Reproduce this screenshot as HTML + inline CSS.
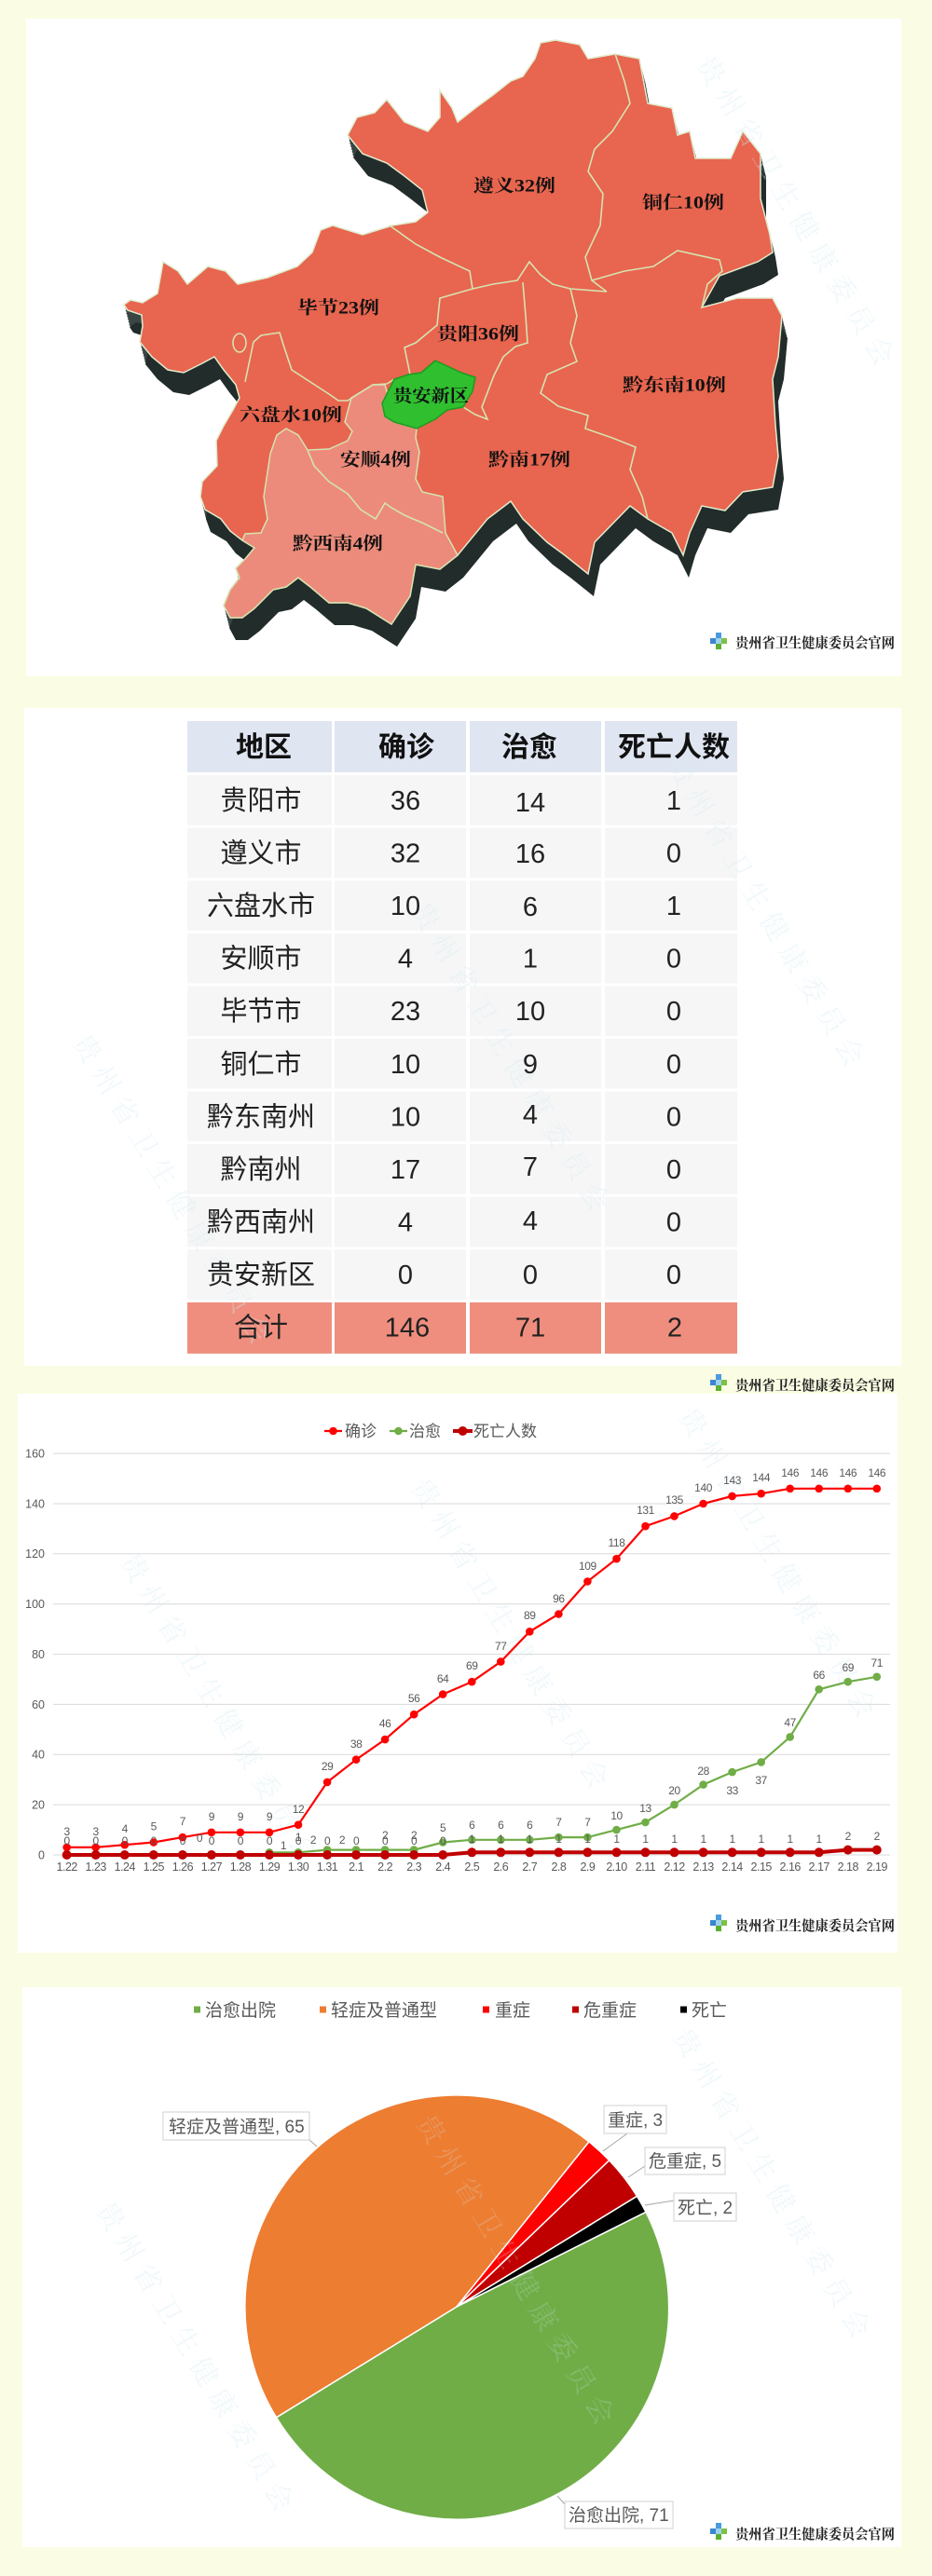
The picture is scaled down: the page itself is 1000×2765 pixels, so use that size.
<!DOCTYPE html>
<html><head><meta charset="utf-8">
<style>
html,body{margin:0;padding:0;background:#FAFDE3;}
svg{display:block}
.mp{font-family:"Liberation Serif","Noto Serif CJK SC",serif;font-weight:bold;font-size:19px;fill:#111}
.tb{font-family:"Liberation Sans","Noto Sans CJK SC",sans-serif;font-size:29px;fill:#222;text-anchor:middle}
.th{font-family:"Liberation Sans","Noto Sans CJK SC",sans-serif;font-size:30px;fill:#111;text-anchor:middle;font-weight:bold}
.ax{font-family:"Liberation Sans","Noto Sans CJK SC",sans-serif;font-size:12.5px;fill:#595959}
.dl{font-family:"Liberation Sans",sans-serif;font-size:12px;fill:#595959;text-anchor:middle;letter-spacing:-0.4px}
.lg{font-family:"Liberation Sans","Noto Sans CJK SC",sans-serif;font-size:17px;fill:#595959}
.pl{font-family:"Liberation Sans","Noto Sans CJK SC",sans-serif;font-size:19px;fill:#595959}
.wm{font-family:"Liberation Serif","Noto Serif CJK SC",serif;font-size:30px;fill:#d6ecf4;opacity:.35;letter-spacing:9px}
.logo{font-family:"Liberation Serif","Noto Serif CJK SC",serif;font-weight:bold;font-size:15px;fill:#222}
</style></head>
<body>
<svg width="1000" height="2765" viewBox="0 0 1000 2765" xmlns="http://www.w3.org/2000/svg">
<defs>
<path id="outer" d="M580,46 L596,43 622,48 631,63 660,58 686,63 695,111 721,116 727,145 740,141 746,170 784,170 797,141 816,165 816,213 826,252 829,271 813,281 772,296 753,330 791,320 829,320 839,339 835,383 829,407 832,456 835,490 829,523 797,528 778,548 753,543 740,572 733,596 721,572 695,557 676,543 638,582 631,616 606,596 587,582 561,557 548,538 523,557 491,596 472,611 446,606 440,640 420,670 393,653 373,647 353,647 333,630 320,620 307,630 293,633 273,653 260,663 247,663 240,650 247,633 257,620 253,610 263,600 273,588 260,580 247,570 237,557 220,547 215,533 217,517 233,500 232,473 240,457 250,440 257,427 253,413 240,397 230,383 217,390 197,400 180,397 163,383 150,367 153,350 152,338 137,333 133,327 140,322 153,325 169,315 175,281 191,291 201,305 223,286 242,291 255,305 287,298 319,286 335,271 344,247 357,242 389,252 421,242 446,238 459,228 453,204 434,189 415,175 389,165 373,145 383,126 402,121 415,107 434,131 459,141 472,126 472,97 485,116 491,131 510,116 529,102 548,87 561,82 574,63 Z"/>
<g id="ico">
<rect x="6" y="0" width="6" height="6" fill="#4a9be0"/>
<rect x="0" y="6" width="6" height="6" fill="#3a86d0"/>
<rect x="6" y="6" width="6" height="6" fill="#9fd0f0"/>
<rect x="12" y="6" width="6" height="6" fill="#7cc242"/>
<rect x="6" y="12" width="6" height="6" fill="#5bb033"/>
</g>
</defs>

<!-- panels -->
<rect x="28" y="20" width="939" height="706" fill="#fff"/>
<rect x="26" y="760" width="941" height="706" fill="#fff"/>
<rect x="19" y="1496" width="944" height="600" fill="#fff"/>
<rect x="24" y="2133" width="943" height="601" fill="#fff"/>

<!-- ============ MAP ============ -->
<g fill="#3a4644">
<use href="#outer" transform="translate(1,3)"/>
<use href="#outer" transform="translate(1.5,6)"/>
<use href="#outer" transform="translate(2.2,9)"/>
<use href="#outer" transform="translate(3,12)"/>
<use href="#outer" transform="translate(3.8,15)"/>
<use href="#outer" transform="translate(4.5,18)"/>
<use href="#outer" transform="translate(5.2,21)"/>
</g>
<use href="#outer" transform="translate(6,24)" fill="#222c2b"/>
<use href="#outer" fill="#E8654F" stroke="#dfeccd" stroke-width="1.5"/>
<polygon points="260,580 273,588 263,600 253,610 257,620 247,633 240,650 247,663 260,663 273,653 293,633 307,630 320,620 333,630 353,647 373,647 393,653 420,670 440,640 446,606 472,611 491,596 478,572 475,533 453,528 446,514 450,485 446,470 447,460 423,453 413,447 410,433 417,427 413,413 400,413 377,427 370,453 378,463 373,473 353,482 330,483 320,467 307,460 297,467 290,487 287,507 283,533 287,557 280,572 263,573" fill="#EC8B7B" stroke="#d5e3b0" stroke-width="1.5"/>
<g fill="none" stroke="#d5e3b0" stroke-width="1.6">
<polyline points="660,58 670,87 676,111 657,141 638,160 631,184 647,208 644,242 628,276 635,301 651,313"/>
<polyline points="635,301 670,291 701,286 727,269 772,279 775,291 759,305 753,330"/>
<polyline points="418,242 446,262 472,276 504,291 507,310"/>
<polyline points="507,310 529,305 555,301 568,281 580,295 593,305 612,310 651,313"/>
<polyline points="507,310 472,320 469,349 446,368 434,373 440,402"/>
<polyline points="561,303 564,339 566,368 553,372 540,383 530,403 517,437 523,450 510,445 497,437"/>
<polyline points="612,310 619,339 612,368 619,388 587,402 580,422 599,436 631,446 628,460 657,470 682,480 676,504 689,533 695,557"/>
<polyline points="263,410 272,367 280,360 300,357 305,373 313,397 333,410 353,423 363,430 373,430 400,413 415,412 423,407"/>
<polyline points="330,483 337,500 353,517 373,530 387,547 403,557 413,540 420,545 434,553 455,562 475,572"/>
<ellipse cx="257" cy="368" rx="7" ry="10"/>
</g>
<polygon points="410,433 423,407 438,402 452,400 467,387 480,393 495,400 510,405 507,420 497,437 480,440 467,450 447,460 423,453 413,447" fill="#2fbf2f" stroke="#1f9a1f" stroke-width="1.5"/>

<text class="mp" x="508" y="205.5" textLength="88" lengthAdjust="spacingAndGlyphs">遵义32例</text>
<text class="mp" x="689" y="223.5" textLength="88" lengthAdjust="spacingAndGlyphs">铜仁10例</text>
<text class="mp" x="319" y="336.5" textLength="88" lengthAdjust="spacingAndGlyphs">毕节23例</text>
<text class="mp" x="469" y="364.5" textLength="88" lengthAdjust="spacingAndGlyphs">贵阳36例</text>
<text class="mp" x="422" y="431" textLength="81" lengthAdjust="spacingAndGlyphs">贵安新区</text>
<text class="mp" x="668" y="419.5" textLength="111" lengthAdjust="spacingAndGlyphs">黔东南10例</text>
<text class="mp" x="257" y="451.5" textLength="110" lengthAdjust="spacingAndGlyphs">六盘水10例</text>
<text class="mp" x="365" y="499.5" textLength="76" lengthAdjust="spacingAndGlyphs">安顺4例</text>
<text class="mp" x="524" y="499.5" textLength="88" lengthAdjust="spacingAndGlyphs">黔南17例</text>
<text class="mp" x="314" y="589.5" textLength="97" lengthAdjust="spacingAndGlyphs">黔西南4例</text>

<text class="wm" transform="translate(746,68) rotate(59)">贵州省卫生健康委员会</text>

<use href="#ico" transform="translate(762,679)"/>
<text class="logo" x="789" y="695" textLength="171" lengthAdjust="spacingAndGlyphs">贵州省卫生健康委员会官网</text>

<!-- ============ TABLE ============ -->
<g>
<rect x="201" y="774" width="155" height="55" fill="#E0E5F2"/>
<rect x="359" y="774" width="141" height="55" fill="#E0E5F2"/>
<rect x="504" y="774" width="141" height="55" fill="#E0E5F2"/>
<rect x="649" y="774" width="142" height="55" fill="#E0E5F2"/>
</g>
<g fill="#F6F6F6">
<rect x="201" y="832.1" width="155" height="53.6"/><rect x="359" y="832.1" width="141" height="53.6"/><rect x="504" y="832.1" width="141" height="53.6"/><rect x="649" y="832.1" width="142" height="53.6"/>
<rect x="201" y="888.7" width="155" height="53.6"/><rect x="359" y="888.7" width="141" height="53.6"/><rect x="504" y="888.7" width="141" height="53.6"/><rect x="649" y="888.7" width="142" height="53.6"/>
<rect x="201" y="945.2" width="155" height="53.6"/><rect x="359" y="945.2" width="141" height="53.6"/><rect x="504" y="945.2" width="141" height="53.6"/><rect x="649" y="945.2" width="142" height="53.6"/>
<rect x="201" y="1001.8" width="155" height="53.6"/><rect x="359" y="1001.8" width="141" height="53.6"/><rect x="504" y="1001.8" width="141" height="53.6"/><rect x="649" y="1001.8" width="142" height="53.6"/>
<rect x="201" y="1058.4" width="155" height="53.6"/><rect x="359" y="1058.4" width="141" height="53.6"/><rect x="504" y="1058.4" width="141" height="53.6"/><rect x="649" y="1058.4" width="142" height="53.6"/>
<rect x="201" y="1115" width="155" height="53.6"/><rect x="359" y="1115" width="141" height="53.6"/><rect x="504" y="1115" width="141" height="53.6"/><rect x="649" y="1115" width="142" height="53.6"/>
<rect x="201" y="1171.6" width="155" height="53.6"/><rect x="359" y="1171.6" width="141" height="53.6"/><rect x="504" y="1171.6" width="141" height="53.6"/><rect x="649" y="1171.6" width="142" height="53.6"/>
<rect x="201" y="1228.1" width="155" height="53.6"/><rect x="359" y="1228.1" width="141" height="53.6"/><rect x="504" y="1228.1" width="141" height="53.6"/><rect x="649" y="1228.1" width="142" height="53.6"/>
<rect x="201" y="1284.7" width="155" height="53.6"/><rect x="359" y="1284.7" width="141" height="53.6"/><rect x="504" y="1284.7" width="141" height="53.6"/><rect x="649" y="1284.7" width="142" height="53.6"/>
<rect x="201" y="1341.3" width="155" height="53.6"/><rect x="359" y="1341.3" width="141" height="53.6"/><rect x="504" y="1341.3" width="141" height="53.6"/><rect x="649" y="1341.3" width="142" height="53.6"/>
</g>
<g fill="#EF8E7E">
<rect x="201" y="1397.9" width="155" height="55"/><rect x="359" y="1397.9" width="141" height="55"/><rect x="504" y="1397.9" width="141" height="55"/><rect x="649" y="1397.9" width="142" height="55"/>
</g>

<text class="wm" transform="translate(714,820) rotate(59)">贵州省卫生健康委员会</text>
<text class="wm" transform="translate(440,976) rotate(59)">贵州省卫生健康委员会</text>
<text class="wm" transform="translate(77,1118) rotate(59)">贵州省卫生健康委员会</text>

<text class="th" x="283" y="812">地区</text><text class="th" x="436" y="812">确诊</text><text class="th" x="568" y="812">治愈</text><text class="th" x="723" y="812">死亡人数</text>

<text class="tb" x="280" y="869">贵阳市</text><text class="tb" x="435" y="869">36</text><text class="tb" x="569" y="871">14</text><text class="tb" x="723" y="869">1</text>
<text class="tb" x="280" y="925.5">遵义市</text><text class="tb" x="435" y="925.5">32</text><text class="tb" x="569" y="926">16</text><text class="tb" x="723" y="925.5">0</text>
<text class="tb" x="280" y="982">六盘水市</text><text class="tb" x="435" y="982">10</text><text class="tb" x="569" y="983">6</text><text class="tb" x="723" y="982">1</text>
<text class="tb" x="280" y="1038.6">安顺市</text><text class="tb" x="435" y="1038.6">4</text><text class="tb" x="569" y="1038.6">1</text><text class="tb" x="723" y="1038.6">0</text>
<text class="tb" x="280" y="1095.2">毕节市</text><text class="tb" x="435" y="1095.2">23</text><text class="tb" x="569" y="1095.2">10</text><text class="tb" x="723" y="1095.2">0</text>
<text class="tb" x="280" y="1151.8">铜仁市</text><text class="tb" x="435" y="1151.8">10</text><text class="tb" x="569" y="1151.8">9</text><text class="tb" x="723" y="1151.8">0</text>
<text class="tb" x="280" y="1208.4">黔东南州</text><text class="tb" x="435" y="1208.4">10</text><text class="tb" x="569" y="1206">4</text><text class="tb" x="723" y="1208.4">0</text>
<text class="tb" x="280" y="1265">黔南州</text><text class="tb" x="435" y="1265">17</text><text class="tb" x="569" y="1262">7</text><text class="tb" x="723" y="1265">0</text>
<text class="tb" x="280" y="1321.6">黔西南州</text><text class="tb" x="435" y="1321.6">4</text><text class="tb" x="569" y="1320">4</text><text class="tb" x="723" y="1321.6">0</text>
<text class="tb" x="280" y="1378.2">贵安新区</text><text class="tb" x="435" y="1378.2">0</text><text class="tb" x="569" y="1378.2">0</text><text class="tb" x="723" y="1378.2">0</text>
<text class="tb" x="280" y="1434.7">合计</text><text class="tb" x="437" y="1434.7">146</text><text class="tb" x="569" y="1434.7">71</text><text class="tb" x="724" y="1434.7">2</text>

<use href="#ico" transform="translate(762,1475)"/>
<text class="logo" x="789" y="1492" textLength="171" lengthAdjust="spacingAndGlyphs">贵州省卫生健康委员会官网</text>

<!-- ============ LINE CHART ============ -->
<text class="wm" transform="translate(727,1519) rotate(59)">贵州省卫生健康委员会</text>
<text class="wm" transform="translate(440,1595) rotate(59)">贵州省卫生健康委员会</text>
<text class="wm" transform="translate(128,1675) rotate(59)">贵州省卫生健康委员会</text>

<g stroke="#D9D9D9" stroke-width="1">
<line x1="57" y1="1560.1" x2="955" y2="1560.1"/>
<line x1="57" y1="1614" x2="955" y2="1614"/>
<line x1="57" y1="1667.8" x2="955" y2="1667.8"/>
<line x1="57" y1="1721.7" x2="955" y2="1721.7"/>
<line x1="57" y1="1775.6" x2="955" y2="1775.6"/>
<line x1="57" y1="1829.4" x2="955" y2="1829.4"/>
<line x1="57" y1="1883.3" x2="955" y2="1883.3"/>
<line x1="57" y1="1937.1" x2="955" y2="1937.1"/>
<line x1="57" y1="1991" x2="955" y2="1991"/>
</g>
<g class="ax" text-anchor="end">
<text x="48" y="1564.5">160</text><text x="48" y="1618.4">140</text><text x="48" y="1672.2">120</text><text x="48" y="1726.1">100</text><text x="48" y="1780">80</text><text x="48" y="1833.8">60</text><text x="48" y="1887.7">40</text><text x="48" y="1941.5">20</text><text x="48" y="1995.4">0</text>
</g>
<g class="ax" text-anchor="middle" letter-spacing="-0.5">
<text x="71.7" y="2008">1.22</text><text x="102.7" y="2008">1.23</text><text x="133.8" y="2008">1.24</text><text x="164.8" y="2008">1.25</text><text x="195.9" y="2008">1.26</text><text x="226.9" y="2008">1.27</text><text x="257.9" y="2008">1.28</text><text x="289" y="2008">1.29</text><text x="320" y="2008">1.30</text><text x="351.1" y="2008">1.31</text><text x="382.1" y="2008">2.1</text><text x="413.1" y="2008">2.2</text><text x="444.2" y="2008">2.3</text><text x="475.2" y="2008">2.4</text><text x="506.3" y="2008">2.5</text><text x="537.3" y="2008">2.6</text><text x="568.3" y="2008">2.7</text><text x="599.4" y="2008">2.8</text><text x="630.4" y="2008">2.9</text><text x="661.5" y="2008">2.10</text><text x="692.5" y="2008">2.11</text><text x="723.5" y="2008">2.12</text><text x="754.6" y="2008">2.13</text><text x="785.6" y="2008">2.14</text><text x="816.7" y="2008">2.15</text><text x="847.7" y="2008">2.16</text><text x="878.7" y="2008">2.17</text><text x="909.8" y="2008">2.18</text><text x="940.8" y="2008">2.19</text>
</g>

<!-- legend -->
<line x1="348" y1="1536" x2="367" y2="1536" stroke="#FF0000" stroke-width="2.2"/><circle cx="357.5" cy="1536" r="4.3" fill="#FF0000"/>
<text class="lg" x="370" y="1542">确诊</text>
<line x1="418" y1="1536" x2="437" y2="1536" stroke="#70AD47" stroke-width="2.2"/><circle cx="427.5" cy="1536" r="4.3" fill="#70AD47"/>
<text class="lg" x="439" y="1542">治愈</text>
<line x1="486" y1="1536" x2="507" y2="1536" stroke="#C00000" stroke-width="4"/><circle cx="496.5" cy="1536" r="5" fill="#C00000"/>
<text class="lg" x="508" y="1542">死亡人数</text>

<!-- confirmed -->
<polyline fill="none" stroke="#FF0000" stroke-width="2.2" points="71.7,1982.9 102.7,1982.9 133.8,1980.2 164.8,1977.5 195.9,1972.1 226.9,1966.8 257.9,1966.8 289,1966.8 320,1958.7 351.1,1912.9 382.1,1888.7 413.1,1867.1 444.2,1840.2 475.2,1818.6 506.3,1805.2 537.3,1783.6 568.3,1751.3 599.4,1732.5 630.4,1697.5 661.5,1673.2 692.5,1638.2 723.5,1627.4 754.6,1614 785.6,1605.9 816.7,1603.2 847.7,1597.8 878.7,1597.8 909.8,1597.8 940.8,1597.8"/>
<g fill="#FF0000">
<circle cx="71.7" cy="1982.9" r="4.3"/><circle cx="102.7" cy="1982.9" r="4.3"/><circle cx="133.8" cy="1980.2" r="4.3"/><circle cx="164.8" cy="1977.5" r="4.3"/><circle cx="195.9" cy="1972.1" r="4.3"/><circle cx="226.9" cy="1966.8" r="4.3"/><circle cx="257.9" cy="1966.8" r="4.3"/><circle cx="289" cy="1966.8" r="4.3"/><circle cx="320" cy="1958.7" r="4.3"/><circle cx="351.1" cy="1912.9" r="4.3"/><circle cx="382.1" cy="1888.7" r="4.3"/><circle cx="413.1" cy="1867.1" r="4.3"/><circle cx="444.2" cy="1840.2" r="4.3"/><circle cx="475.2" cy="1818.6" r="4.3"/><circle cx="506.3" cy="1805.2" r="4.3"/><circle cx="537.3" cy="1783.6" r="4.3"/><circle cx="568.3" cy="1751.3" r="4.3"/><circle cx="599.4" cy="1732.5" r="4.3"/><circle cx="630.4" cy="1697.5" r="4.3"/><circle cx="661.5" cy="1673.2" r="4.3"/><circle cx="692.5" cy="1638.2" r="4.3"/><circle cx="723.5" cy="1627.4" r="4.3"/><circle cx="754.6" cy="1614" r="4.3"/><circle cx="785.6" cy="1605.9" r="4.3"/><circle cx="816.7" cy="1603.2" r="4.3"/><circle cx="847.7" cy="1597.8" r="4.3"/><circle cx="878.7" cy="1597.8" r="4.3"/><circle cx="909.8" cy="1597.8" r="4.3"/><circle cx="940.8" cy="1597.8" r="4.3"/>
</g>
<!-- cured -->
<polyline fill="none" stroke="#70AD47" stroke-width="2.2" points="289,1988.3 320,1988.3 351.1,1985.6 382.1,1985.6 413.1,1985.6 444.2,1985.6 475.2,1977.5 506.3,1974.8 537.3,1974.8 568.3,1974.8 599.4,1972.1 630.4,1972.1 661.5,1964.1 692.5,1956 723.5,1937.1 754.6,1915.6 785.6,1902.1 816.7,1891.4 847.7,1864.4 878.7,1813.3 909.8,1805.2 940.8,1799.8"/>
<g fill="#70AD47">
<circle cx="289" cy="1988.3" r="4.3"/><circle cx="320" cy="1988.3" r="4.3"/><circle cx="351.1" cy="1985.6" r="4.3"/><circle cx="382.1" cy="1985.6" r="4.3"/><circle cx="413.1" cy="1985.6" r="4.3"/><circle cx="444.2" cy="1985.6" r="4.3"/><circle cx="475.2" cy="1977.5" r="4.3"/><circle cx="506.3" cy="1974.8" r="4.3"/><circle cx="537.3" cy="1974.8" r="4.3"/><circle cx="568.3" cy="1974.8" r="4.3"/><circle cx="599.4" cy="1972.1" r="4.3"/><circle cx="630.4" cy="1972.1" r="4.3"/><circle cx="661.5" cy="1964.1" r="4.3"/><circle cx="692.5" cy="1956" r="4.3"/><circle cx="723.5" cy="1937.1" r="4.3"/><circle cx="754.6" cy="1915.6" r="4.3"/><circle cx="785.6" cy="1902.1" r="4.3"/><circle cx="816.7" cy="1891.4" r="4.3"/><circle cx="847.7" cy="1864.4" r="4.3"/><circle cx="878.7" cy="1813.3" r="4.3"/><circle cx="909.8" cy="1805.2" r="4.3"/><circle cx="940.8" cy="1799.8" r="4.3"/>
</g>
<!-- deaths -->
<polyline fill="none" stroke="#C00000" stroke-width="4" points="71.7,1991 475.2,1991 506.3,1988.3 878.7,1988.3 909.8,1985.6 940.8,1985.6"/>
<g fill="#C00000">
<circle cx="71.7" cy="1991" r="5"/><circle cx="102.7" cy="1991" r="5"/><circle cx="133.8" cy="1991" r="5"/><circle cx="164.8" cy="1991" r="5"/><circle cx="195.9" cy="1991" r="5"/><circle cx="226.9" cy="1991" r="5"/><circle cx="257.9" cy="1991" r="5"/><circle cx="289" cy="1991" r="5"/><circle cx="320" cy="1991" r="5"/><circle cx="351.1" cy="1991" r="5"/><circle cx="382.1" cy="1991" r="5"/><circle cx="413.1" cy="1991" r="5"/><circle cx="444.2" cy="1991" r="5"/><circle cx="475.2" cy="1991" r="5"/><circle cx="506.3" cy="1988.3" r="5"/><circle cx="537.3" cy="1988.3" r="5"/><circle cx="568.3" cy="1988.3" r="5"/><circle cx="599.4" cy="1988.3" r="5"/><circle cx="630.4" cy="1988.3" r="5"/><circle cx="661.5" cy="1988.3" r="5"/><circle cx="692.5" cy="1988.3" r="5"/><circle cx="723.5" cy="1988.3" r="5"/><circle cx="754.6" cy="1988.3" r="5"/><circle cx="785.6" cy="1988.3" r="5"/><circle cx="816.7" cy="1988.3" r="5"/><circle cx="847.7" cy="1988.3" r="5"/><circle cx="878.7" cy="1988.3" r="5"/><circle cx="909.8" cy="1985.6" r="5"/><circle cx="940.8" cy="1985.6" r="5"/>
</g>

<!-- data labels -->
<g class="dl">
<text x="71.7" y="1970">3</text><text x="102.7" y="1970">3</text><text x="133.8" y="1967">4</text><text x="164.8" y="1964.5">5</text><text x="195.9" y="1959">7</text><text x="226.9" y="1954">9</text><text x="257.9" y="1954">9</text><text x="289" y="1954">9</text><text x="320" y="1946">12</text><text x="351.1" y="1900">29</text><text x="382.1" y="1876">38</text><text x="413.1" y="1854">46</text><text x="444.2" y="1827">56</text><text x="475.2" y="1806">64</text><text x="506.3" y="1792">69</text><text x="537.3" y="1771">77</text><text x="568.3" y="1738">89</text><text x="599.4" y="1720">96</text><text x="630.4" y="1685">109</text><text x="661.5" y="1660">118</text><text x="692.5" y="1625">131</text><text x="723.5" y="1614">135</text><text x="754.6" y="1601">140</text><text x="785.6" y="1593">143</text><text x="816.7" y="1590">144</text><text x="847.7" y="1585">146</text><text x="878.7" y="1585">146</text><text x="909.8" y="1585">146</text><text x="940.8" y="1585">146</text>
<text x="71.7" y="1980">0</text><text x="102.7" y="1980">0</text><text x="133.8" y="1980">0</text><text x="164.8" y="1980">0</text><text x="195.9" y="1980">0</text><text x="214" y="1977">0</text><text x="226.9" y="1980">0</text><text x="257.9" y="1980">0</text><text x="289" y="1980">0</text><text x="320" y="1980">0</text><text x="351.1" y="1980">0</text><text x="382.1" y="1980">0</text><text x="413.1" y="1980">0</text><text x="444.2" y="1980">0</text><text x="475.2" y="1980">0</text>
<text x="506.3" y="1978">1</text><text x="537.3" y="1978">1</text><text x="568.3" y="1978">1</text><text x="599.4" y="1978">1</text><text x="630.4" y="1978">1</text><text x="661.5" y="1978">1</text><text x="692.5" y="1978">1</text><text x="723.5" y="1978">1</text><text x="754.6" y="1978">1</text><text x="785.6" y="1978">1</text><text x="816.7" y="1978">1</text><text x="847.7" y="1978">1</text><text x="878.7" y="1978">1</text><text x="909.8" y="1975">2</text><text x="940.8" y="1975">2</text>
<text x="304" y="1985">1</text><text x="320" y="1976">1</text><text x="336" y="1979">2</text><text x="367" y="1979">2</text><text x="413.1" y="1974">2</text><text x="444.2" y="1974">2</text><text x="475.2" y="1966">5</text><text x="506.3" y="1963">6</text><text x="537.3" y="1963">6</text><text x="568.3" y="1963">6</text><text x="599.4" y="1960">7</text><text x="630.4" y="1960">7</text><text x="661.5" y="1953">10</text><text x="692.5" y="1945">13</text><text x="723.5" y="1926">20</text><text x="754.6" y="1905">28</text><text x="785.6" y="1926">33</text><text x="816.7" y="1915">37</text><text x="847.7" y="1853">47</text><text x="878.7" y="1802">66</text><text x="909.8" y="1794">69</text><text x="940.8" y="1789">71</text>
</g>

<use href="#ico" transform="translate(762,2055)"/>
<text class="logo" x="789" y="2072" textLength="171" lengthAdjust="spacingAndGlyphs">贵州省卫生健康委员会官网</text>

<!-- ============ PIE ============ -->
<text class="wm" transform="translate(721,2185) rotate(59)">贵州省卫生健康委员会</text>
<text class="wm" transform="translate(102,2371) rotate(59)">贵州省卫生健康委员会</text>

<rect x="208" y="2153.5" width="7" height="7" fill="#70AD47"/><text class="pl" x="220" y="2164">治愈出院</text>
<rect x="343" y="2153.5" width="7" height="7" fill="#ED7D31"/><text class="pl" x="355" y="2164">轻症及普通型</text>
<rect x="518" y="2153.5" width="7" height="7" fill="#FF0000"/><text class="pl" x="531" y="2164">重症</text>
<rect x="614" y="2153.5" width="7" height="7" fill="#C00000"/><text class="pl" x="626" y="2164">危重症</text>
<rect x="730" y="2153.5" width="7" height="7" fill="#000000"/><text class="pl" x="742" y="2164">死亡</text>

<g stroke="#fff" stroke-width="1.5" stroke-linejoin="round">
<path d="M490,2476 L693,2374.3 A227,227 0 0,1 296.5,2594.8 Z" fill="#70AD47"/>
<path d="M490,2476 L296.5,2594.8 A227,227 0 0,1 632,2298.9 Z" fill="#ED7D31"/>
<path d="M490,2476 L632,2298.9 A227,227 0 0,1 653.7,2318.8 Z" fill="#FF0000"/>
<path d="M490,2476 L653.7,2318.8 A227,227 0 0,1 683.5,2357.3 Z" fill="#C00000"/>
<path d="M490,2476 L683.5,2357.3 A227,227 0 0,1 693,2374.3 Z" fill="#000000"/>
</g>
<text class="wm" transform="translate(446,2278) rotate(59)" style="opacity:.2">贵州省卫生健康委员会</text>

<g stroke="#a6a6a6" stroke-width="1" fill="none">
<line x1="332" y1="2297" x2="340" y2="2304"/>
<line x1="673" y1="2290" x2="647" y2="2309"/>
<line x1="692" y1="2325" x2="674" y2="2337"/>
<line x1="723" y1="2362" x2="692" y2="2367"/>
<line x1="606" y1="2688" x2="598" y2="2679"/>
</g>
<g fill="#fff" stroke="#d0d0d0" stroke-width="1">
<rect x="175" y="2267" width="157" height="30"/>
<rect x="648" y="2260" width="67" height="30"/>
<rect x="692" y="2305" width="86" height="29"/>
<rect x="723" y="2354" width="67" height="30"/>
<rect x="606" y="2685" width="116" height="29"/>
</g>
<text class="pl" x="181" y="2289">轻症及普通型, 65</text>
<text class="pl" x="652" y="2282">重症, 3</text>
<text class="pl" x="696" y="2326">危重症, 5</text>
<text class="pl" x="727" y="2376">死亡, 2</text>
<text class="pl" x="610" y="2706">治愈出院, 71</text>

<use href="#ico" transform="translate(762,2708)"/>
<text class="logo" x="789" y="2725" textLength="171" lengthAdjust="spacingAndGlyphs">贵州省卫生健康委员会官网</text>
</svg>
</body></html>
